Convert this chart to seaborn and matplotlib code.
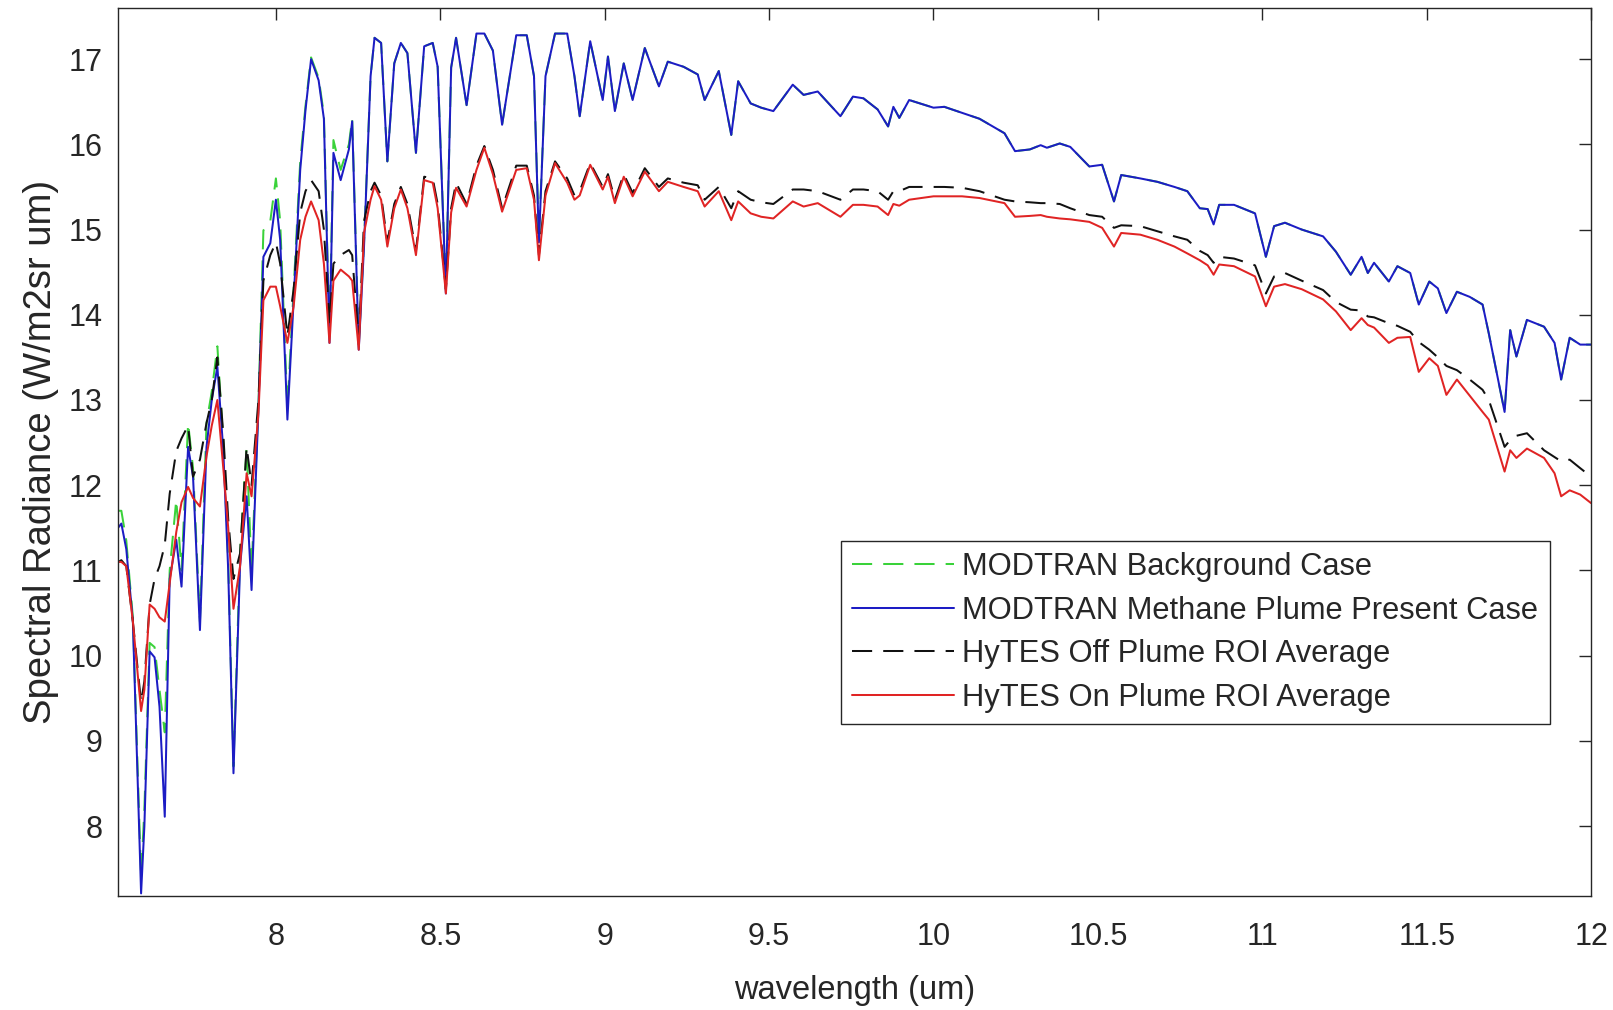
import numpy as np
import pandas as pd
import matplotlib
matplotlib.use("Agg")
import matplotlib.pyplot as plt
from matplotlib.ticker import FormatStrFormatter
import seaborn as sns


# =========================
# 1. data
# =========================
wavelength = [
    7.52, 7.53, 7.545, 7.565, 7.59, 7.60, 7.616, 7.631, 7.646, 7.662,
    7.677, 7.697, 7.713, 7.733, 7.748, 7.769, 7.789, 7.805, 7.822, 7.84,
    7.855, 7.871, 7.891, 7.911, 7.926, 7.947, 7.962, 7.983, 8.0, 8.013,
    8.035, 8.054, 8.074, 8.09, 8.107, 8.13, 8.146, 8.163, 8.175, 8.197,
    8.222, 8.232, 8.252, 8.268, 8.288, 8.30, 8.32, 8.339, 8.36, 8.38,
    8.40, 8.426, 8.451, 8.477, 8.492, 8.517, 8.533, 8.548, 8.58, 8.61,
    8.634, 8.66, 8.688, 8.731, 8.763, 8.785, 8.80, 8.82, 8.849, 8.886,
    8.908, 8.924, 8.956, 8.994, 9.01, 9.031, 9.058, 9.085, 9.122, 9.165,
    9.192, 9.24, 9.283, 9.304, 9.347, 9.385, 9.406, 9.444, 9.476, 9.513,
    9.572, 9.605, 9.648, 9.717, 9.755, 9.787, 9.83, 9.862, 9.878, 9.896,
    9.926, 10.0, 10.033, 10.087, 10.14, 10.216, 10.248, 10.293, 10.326, 10.345,
    10.384, 10.416, 10.474, 10.513, 10.549, 10.571, 10.629, 10.681, 10.733, 10.772,
    10.81, 10.834, 10.852, 10.869, 10.914, 10.978, 11.011, 11.036, 11.069, 11.12,
    11.185, 11.224, 11.269, 11.302, 11.321, 11.34, 11.385, 11.411, 11.45, 11.476,
    11.508, 11.534, 11.56, 11.592, 11.631, 11.67, 11.689, 11.737, 11.754, 11.773,
    11.805, 11.857, 11.889, 11.909, 11.935, 11.967, 12.0,
]

modtran_background = [
    11.70, 11.70, 11.35, 10.45, 7.40, 8.20, 10.15, 10.10, 9.60, 9.10,
    11.00, 11.83, 11.00, 12.73, 12.20, 10.40, 12.73, 13.10, 13.63, 12.50,
    11.10, 8.70, 11.20, 12.45, 11.00, 12.95, 14.99, 15.10, 15.60, 15.10,
    12.90, 14.30, 15.80, 16.45, 17.02, 16.78, 16.35, 13.75, 16.05, 15.70,
    16.00, 16.30, 13.65, 14.85, 16.80, 17.25, 17.19, 15.80, 16.95, 17.19,
    17.07, 15.90, 17.15, 17.19, 16.91, 14.30, 16.90, 17.25, 16.46, 17.30,
    17.30, 17.10, 16.23, 17.28, 17.28, 16.80, 14.90, 16.80, 17.30, 17.30,
    16.80, 16.33, 17.21, 16.52, 17.03, 16.39, 16.95, 16.52, 17.13, 16.68,
    16.97, 16.91, 16.82, 16.52, 16.86, 16.11, 16.74, 16.48, 16.43, 16.39,
    16.70, 16.58, 16.62, 16.33, 16.56, 16.54, 16.41, 16.21, 16.44, 16.31,
    16.52, 16.43, 16.44, 16.37, 16.30, 16.13, 15.92, 15.94, 15.99, 15.96,
    16.01, 15.97, 15.74, 15.76, 15.33, 15.64, 15.60, 15.56, 15.50, 15.45,
    15.25, 15.24, 15.06, 15.29, 15.29, 15.19, 14.68, 15.04, 15.08, 15.00,
    14.92, 14.74, 14.47, 14.68, 14.49, 14.61, 14.39, 14.57, 14.49, 14.12,
    14.39, 14.31, 14.02, 14.27, 14.21, 14.12, 13.78, 12.86, 13.82, 13.51,
    13.94, 13.86, 13.67, 13.24, 13.73, 13.65, 13.65,
]

modtran_plume = [
    11.50, 11.55, 11.25, 10.40, 7.21, 8.00, 10.05, 9.98, 9.40, 8.11,
    10.90, 11.36, 10.81, 12.45, 12.10, 10.30, 12.45, 13.00, 13.39, 12.41,
    11.00, 8.62, 11.05, 11.87, 10.77, 12.90, 14.68, 14.84, 15.35, 14.88,
    12.77, 14.17, 15.70, 16.40, 17.00, 16.75, 16.30, 13.67, 15.90, 15.58,
    15.94, 16.27, 13.59, 14.80, 16.80, 17.25, 17.19, 15.80, 16.95, 17.19,
    17.07, 15.90, 17.15, 17.19, 16.91, 14.25, 16.90, 17.25, 16.46, 17.30,
    17.30, 17.10, 16.23, 17.28, 17.28, 16.80, 14.85, 16.80, 17.30, 17.30,
    16.80, 16.33, 17.21, 16.52, 17.03, 16.39, 16.95, 16.52, 17.13, 16.68,
    16.97, 16.91, 16.82, 16.52, 16.86, 16.11, 16.74, 16.48, 16.43, 16.39,
    16.70, 16.58, 16.62, 16.33, 16.56, 16.54, 16.41, 16.21, 16.44, 16.31,
    16.52, 16.43, 16.44, 16.37, 16.30, 16.13, 15.92, 15.94, 15.99, 15.96,
    16.01, 15.97, 15.74, 15.76, 15.33, 15.64, 15.60, 15.56, 15.50, 15.45,
    15.25, 15.24, 15.06, 15.29, 15.29, 15.19, 14.68, 15.04, 15.08, 15.00,
    14.92, 14.74, 14.47, 14.68, 14.49, 14.61, 14.39, 14.57, 14.49, 14.12,
    14.39, 14.31, 14.02, 14.27, 14.21, 14.12, 13.78, 12.86, 13.82, 13.51,
    13.94, 13.86, 13.67, 13.24, 13.73, 13.65, 13.65,
]

hytes_off_plume = [
    11.10, 11.12, 11.05, 10.40, 9.45, 9.70, 10.60, 10.90, 11.05, 11.30,
    11.90, 12.40, 12.55, 12.70, 12.10, 12.30, 12.73, 13.00, 13.50, 12.60,
    11.60, 10.90, 11.20, 12.45, 12.00, 13.00, 14.40, 14.70, 14.85, 14.60,
    13.75, 14.30, 15.20, 15.45, 15.58, 15.45, 15.00, 13.90, 14.60, 14.70,
    14.76, 14.70, 13.70, 15.10, 15.45, 15.55, 15.40, 14.85, 15.30, 15.50,
    15.30, 14.75, 15.62, 15.60, 15.30, 14.30, 15.25, 15.55, 15.30, 15.75,
    15.98, 15.70, 15.25, 15.75, 15.75, 15.40, 14.70, 15.45, 15.80, 15.60,
    15.40, 15.45, 15.78, 15.50, 15.65, 15.35, 15.65, 15.43, 15.72, 15.50,
    15.60, 15.55, 15.52, 15.35, 15.50, 15.25, 15.45, 15.35, 15.32, 15.30,
    15.47, 15.47, 15.45, 15.35, 15.47, 15.47, 15.45, 15.35, 15.45, 15.45,
    15.50, 15.50, 15.50, 15.49, 15.45, 15.35, 15.33, 15.32, 15.31, 15.31,
    15.30, 15.25, 15.17, 15.15, 15.02, 15.05, 15.04, 14.98, 14.92, 14.88,
    14.75, 14.70, 14.61, 14.68, 14.66, 14.58, 14.25, 14.45, 14.49, 14.40,
    14.29, 14.15, 14.06, 14.05, 13.98, 13.97, 13.90, 13.87, 13.80, 13.68,
    13.59, 13.50, 13.40, 13.35, 13.24, 13.12, 13.00, 12.45, 12.53, 12.58,
    12.61, 12.41, 12.33, 12.28, 12.30, 12.20, 12.10,
]

hytes_on_plume = [
    11.10, 11.10, 11.05, 10.40, 9.35, 9.60, 10.60, 10.55, 10.45, 10.40,
    10.85, 11.45, 11.80, 11.98, 11.85, 11.75, 12.34, 12.70, 13.00, 12.20,
    11.50, 10.55, 11.05, 12.14, 11.87, 12.85, 14.17, 14.33, 14.33, 14.10,
    13.67, 14.10, 14.88, 15.15, 15.33, 15.11, 14.60, 13.67, 14.40, 14.53,
    14.45, 14.40, 13.59, 14.96, 15.35, 15.51, 15.35, 14.80, 15.25, 15.47,
    15.25, 14.70, 15.58, 15.55, 15.25, 14.25, 15.20, 15.49, 15.27, 15.70,
    15.96, 15.65, 15.21, 15.70, 15.72, 15.35, 14.64, 15.40, 15.78, 15.55,
    15.35, 15.40, 15.76, 15.47, 15.62, 15.31, 15.62, 15.39, 15.68, 15.45,
    15.56, 15.50, 15.45, 15.27, 15.45, 15.11, 15.33, 15.19, 15.15, 15.13,
    15.33, 15.27, 15.31, 15.15, 15.29, 15.29, 15.27, 15.17, 15.30, 15.28,
    15.35, 15.39, 15.39, 15.39, 15.37, 15.31, 15.15, 15.16, 15.17, 15.15,
    15.13, 15.12, 15.09, 15.02, 14.80, 14.96, 14.94, 14.88, 14.80, 14.72,
    14.64, 14.58, 14.47, 14.59, 14.57, 14.45, 14.10, 14.33, 14.36, 14.30,
    14.18, 14.04, 13.82, 13.96, 13.88, 13.85, 13.67, 13.73, 13.74, 13.33,
    13.49, 13.40, 13.06, 13.24, 13.05, 12.86, 12.77, 12.16, 12.41, 12.32,
    12.43, 12.32, 12.14, 11.87, 11.94, 11.89, 11.79,
]

series_labels = [
    "MODTRAN Background Case",
    "MODTRAN Methane Plume Present Case",
    "HyTES Off Plume ROI Average",
    "HyTES On Plume ROI Average",
]

x_ticks = [8, 8.5, 9, 9.5, 10, 10.5, 11, 11.5, 12]
y_ticks = [8, 9, 10, 11, 12, 13, 14, 15, 16, 17]


# =========================
# 2. plot
# =========================
def main():
    spectra = pd.DataFrame({
        "wavelength": wavelength,
        series_labels[0]: modtran_background,
        series_labels[1]: modtran_plume,
        series_labels[2]: hytes_off_plume,
        series_labels[3]: hytes_on_plume,
    })
    long_df = spectra.melt(id_vars="wavelength", var_name="series",
                           value_name="radiance")

    sns.set_style("white")
    plt.rcParams["font.family"] = ["Liberation Sans", "DejaVu Sans"]
    text_color = "#262626"

    palette = {
        series_labels[0]: "#3ad23a",
        series_labels[1]: "#1c1cc4",
        series_labels[2]: "#111111",
        series_labels[3]: "#e02424",
    }
    dashes = {
        series_labels[0]: (10, 5.5),
        series_labels[1]: "",
        series_labels[2]: (10, 5.5),
        series_labels[3]: "",
    }

    fig = plt.figure(figsize=(16.13, 10.10), dpi=100)
    ax = fig.add_axes([0.0732, 0.1129, 0.9132, 0.8792])

    sns.lineplot(data=long_df, x="wavelength", y="radiance",
                 hue="series", style="series",
                 hue_order=series_labels, style_order=series_labels,
                 palette=palette, dashes=dashes,
                 sort=False, estimator=None, linewidth=1.45,
                 legend=False, ax=ax)
    for line in ax.lines:
        line.set_solid_joinstyle("round")
        line.set_dash_joinstyle("round")

    ax.set_xlim(7.52, 12.0)
    ax.set_ylim(7.18, 17.6)
    ax.set_xticks(x_ticks)
    ax.set_yticks(y_ticks)
    ax.xaxis.set_major_formatter(FormatStrFormatter("%g"))
    ax.yaxis.set_major_formatter(FormatStrFormatter("%g"))

    ax.tick_params(direction="in", length=8.5, width=1, top=True, right=True,
                   labelsize=22, color=text_color, labelcolor=text_color)
    ax.tick_params(axis="x", pad=19)
    ax.tick_params(axis="y", pad=11)
    for spine in ax.spines.values():
        spine.set_linewidth(1)
        spine.set_color(text_color)

    ax.set_xlabel("wavelength (um)", fontsize=23.5, color=text_color,
                  labelpad=16)
    ax.set_ylabel("Spectral Radiance (W/m2sr um)", fontsize=27.5,
                  color=text_color, labelpad=7)

    leg = ax.legend(ax.lines[:4], series_labels, loc="upper left",
                    bbox_to_anchor=(0.4908, 0.3998), borderaxespad=0,
                    fontsize=22.2, handlelength=3.3, handletextpad=0.28,
                    labelspacing=0.44, borderpad=0.36, frameon=True,
                    fancybox=False, framealpha=1, edgecolor=text_color)
    leg.get_frame().set_linewidth(1)
    for t in leg.get_texts():
        t.set_color(text_color)

    fig.savefig("out.png", dpi=100, facecolor="white")


if __name__ == "__main__":
    main()
